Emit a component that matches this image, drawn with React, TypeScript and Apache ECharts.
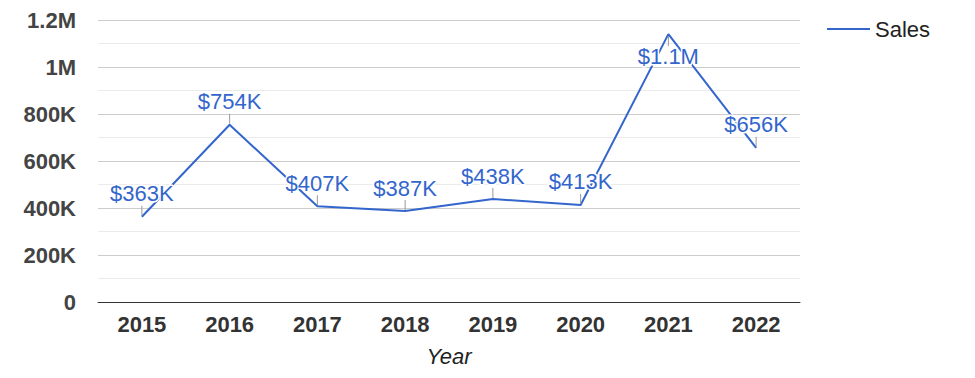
import React, { useEffect, useRef } from "react";
import * as echarts from "echarts";

const years = ["2015", "2016", "2017", "2018", "2019", "2020", "2021", "2022"];
const sales = [363000, 754000, 407000, 387000, 438000, 413000, 1140000, 656000];
const labelBelow = [false, false, false, false, false, false, true, false];

const fmtLabel = (v: number) =>
  v >= 1e6 ? "$" + (v / 1e6).toFixed(1) + "M" : "$" + Math.round(v / 1000) + "K";

const fmtAxis = (v: number) => {
  if (v === 0) return "0";
  if (v >= 1e6) return String(+(v / 1e6).toFixed(1)) + "M";
  return Math.round(v / 1000) + "K";
};

export default function App() {
  const ref = useRef<HTMLDivElement>(null);
  useEffect(() => {
    if (!ref.current) return;
    const chart = echarts.init(ref.current, undefined, { renderer: "svg" });
    const font = "'Liberation Sans', Arial, sans-serif";
    const data = sales.map((v, i) => ({
      value: v,
      symbolOffset: [0, labelBelow[i] ? 7 : -6],
      label: {
        position: labelBelow[i] ? "bottom" : "top",
        distance: labelBelow[i] ? -1 : 1,
      },
    }));
    chart.setOption({
      animation: false,
      textStyle: { fontFamily: font },
      grid: { left: 98, right: 175, top: 20, bottom: 76, containLabel: false },
      legend: {
        show: true,
        left: 822,
        top: 13,
        icon: "rect",
        itemWidth: 43,
        itemHeight: 2,
        itemGap: 10,
        data: [{ name: "Sales", itemStyle: { color: "#3366cc" } }],
        textStyle: { fontSize: 22, color: "#222", fontFamily: font },
      },
      xAxis: {
        type: "category",
        data: years,
        boundaryGap: true,
        axisTick: { show: false },
        axisLine: { lineStyle: { color: "#333", width: 1 } },
        axisLabel: {
          fontSize: 22,
          fontWeight: "bold",
          color: "#333",
          margin: 11,
          fontFamily: font,
        },
        name: "Year",
        nameLocation: "middle",
        nameGap: 43,
        nameTextStyle: { fontSize: 22, fontStyle: "italic", color: "#222", fontFamily: font },
      },
      yAxis: {
        type: "value",
        min: 0,
        max: 1200000,
        interval: 200000,
        axisLine: { show: false },
        axisTick: { show: false },
        axisLabel: {
          formatter: fmtAxis,
          fontSize: 22,
          fontWeight: "bold",
          color: "#444",
          margin: 22,
          fontFamily: font,
        },
        splitLine: { lineStyle: { color: "#cccccc", width: 1 } },
        minorTick: { show: false, splitNumber: 2 },
        minorSplitLine: { show: true, lineStyle: { color: "#ebebeb", width: 1 } },
      },
      series: [
        {
          name: "Sales",
          type: "line",
          data,
          showSymbol: true,
          symbol: "rect",
          symbolSize: [1, 10],
          itemStyle: { color: "#999999" },
          lineStyle: { color: "#3366cc", width: 2 },
          z: 3,
          label: {
            show: true,
            formatter: (p: any) => fmtLabel(p.value),
            color: "#3366cc",
            fontSize: 22,
            fontFamily: font,
            textBorderColor: "#ffffff",
            textBorderWidth: 3,
          },
        },
      ],
    });
    return () => chart.dispose();
  }, []);
  return (
    <div
      ref={ref}
      style={{ position: "fixed", left: 0, top: 0, width: 975, height: 378, background: "#fff" }}
    />
  );
}
